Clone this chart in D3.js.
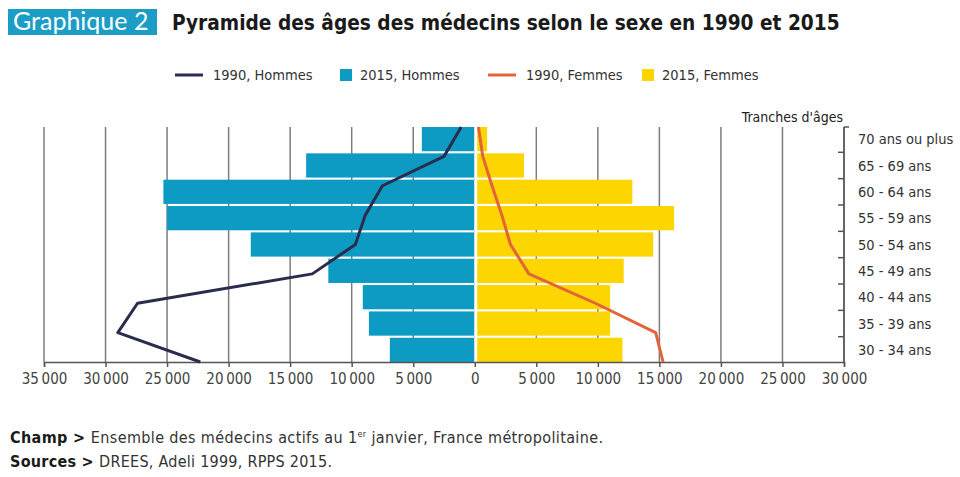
<!DOCTYPE html>
<html>
<head>
<meta charset="utf-8">
<script src="https://cdn.jsdelivr.net/npm/d3@7"></script>
<style>
  body { margin: 0; background: #fff; }
  svg { display: block; }
  .narrow { font-family: 'Liberation Sans Narrow', 'DejaVu Sans Condensed', 'Roboto Condensed', sans-serif; }
</style>
</head>
<body>
<div id="chart"></div>
<script>
// tranches d'âges, du haut vers le bas
var ages = ["70 ans ou plus", "65 - 69 ans", "60 - 64 ans", "55 - 59 ans", "50 - 54 ans",
            "45 - 49 ans", "40 - 44 ans", "35 - 39 ans", "30 - 34 ans"];
// effectifs
var hommes1990 = [1100, 2500, 7500, 8900, 9700, 13200, 27400, 29000, 22300];
var hommes2015 = [4300, 13700, 25300, 25000, 18200, 11900, 9100, 8600, 6900];
var femmes1990 = [300, 650, 1400, 2200, 2900, 4400, 9800, 14700, 15300];
var femmes2015 = [1000, 4000, 12800, 16200, 14500, 12100, 11000, 11000, 12000];
var xTicks = [-35000, -30000, -25000, -20000, -15000, -10000, -5000, 0, 5000, 10000, 15000, 20000, 25000, 30000];

var W = 960, H = 477;
var plot = {left: 44, right: 844, top: 127, bottom: 362};

var svg = d3.select("#chart").append("svg")
    .attr("width", W).attr("height", H);

// échelles
var x = d3.scaleLinear().domain([-35000, 30000]).range([plot.left, plot.right]);
var y = d3.scaleBand().domain(ages).range([plot.top, plot.bottom]).paddingInner(0.08).paddingOuter(0);
var yLine = d3.scalePoint().domain(ages).range([plot.top, plot.bottom]).padding(0);

var fr = d3.formatLocale({decimal: ",", thousands: "\u2009", grouping: [3], currency: ["", " €"]});
var fmt = fr.format(",");

var colH = "#0d9bc4", colF = "#fdd500", colH90 = "#2a2c4e", colF90 = "#e4643a";

// ajuste la taille de police pour tenir dans une largeur donnée
function fitText(sel, width, maxSize) {
    sel.attr("font-size", maxSize);
    var w = sel.node().getComputedTextLength();
    if (w > width) sel.attr("font-size", maxSize * width / w);
}

// titre
svg.append("rect").attr("x", 8).attr("y", 9).attr("width", 149).attr("height", 26).attr("fill", "#1b9dc6");
var t0 = svg.append("text").attr("x", 13).attr("y", 30)
    .attr("font-family", "Lato, 'Open Sans', sans-serif")
    .attr("fill", "#fff")
    .text("Graphique 2");
fitText(t0, 139, 25);
var t1 = svg.append("text").attr("class", "narrow").attr("x", 172).attr("y", 30)
    .attr("font-weight", "bold").attr("fill", "#1a1a1a")
    .text("Pyramide des âges des médecins selon le sexe en 1990 et 2015");
fitText(t1, 668, 25);

// légende
var legend = [
    {label: "1990, Hommes", type: "line", color: colH90, x: 175},
    {label: "2015, Hommes", type: "rect", color: colH, x: 340},
    {label: "1990, Femmes", type: "line", color: colF90, x: 488},
    {label: "2015, Femmes", type: "rect", color: colF, x: 642}
];
var lg = svg.append("g").selectAll("g").data(legend).enter().append("g")
    .attr("transform", function(d) { return "translate(" + d.x + ",75)"; });
lg.filter(function(d) { return d.type === "line"; }).append("line")
    .attr("x1", 0).attr("x2", 28).attr("y1", 0).attr("y2", 0)
    .attr("stroke", function(d) { return d.color; }).attr("stroke-width", 3);
lg.filter(function(d) { return d.type === "rect"; }).append("rect")
    .attr("x", 0).attr("y", -6).attr("width", 12).attr("height", 12)
    .attr("fill", function(d) { return d.color; });
lg.append("text").attr("class", "narrow")
    .attr("x", function(d) { return d.type === "line" ? 38 : 20; })
    .attr("y", 5).attr("font-size", 14.5).attr("fill", "#333")
    .text(function(d) { return d.label; });

svg.append("text").attr("class", "narrow").attr("x", 843).attr("y", 122)
    .attr("text-anchor", "end").attr("font-size", 14).attr("fill", "#222")
    .text("Tranches d'âges");

// grille verticale
svg.append("g").selectAll("line").data(xTicks).enter().append("line")
    .attr("x1", function(d) { return x(d); }).attr("x2", function(d) { return x(d); })
    .attr("y1", plot.top).attr("y2", plot.bottom)
    .attr("stroke", "#7d7d7d").attr("stroke-width", 1.5);

// barres 2015
var bars = svg.append("g");
bars.selectAll(".h").data(ages).enter().append("rect").attr("class", "h")
    .attr("x", function(d, i) { return x(-hommes2015[i]); })
    .attr("y", function(d) { return y(d); })
    .attr("width", function(d, i) { return x(0) - x(-hommes2015[i]); })
    .attr("height", y.bandwidth())
    .attr("fill", colH);
bars.selectAll(".f").data(ages).enter().append("rect").attr("class", "f")
    .attr("x", x(0))
    .attr("y", function(d) { return y(d); })
    .attr("width", function(d, i) { return x(femmes2015[i]) - x(0); })
    .attr("height", y.bandwidth())
    .attr("fill", colF);
// séparation blanche au zéro
svg.append("line").attr("x1", x(0) + 1).attr("x2", x(0) + 1)
    .attr("y1", plot.top).attr("y2", plot.bottom)
    .attr("stroke", "#fff").attr("stroke-width", 3);

// axe horizontal
var xAxis = d3.axisBottom(x).tickValues(xTicks).tickSize(5).tickPadding(6)
    .tickFormat(function(d) { return fmt(Math.abs(d)); });
var gx = svg.append("g").attr("transform", "translate(0," + plot.bottom + ")").call(xAxis);
gx.select(".domain").attr("stroke", "#555").attr("stroke-width", 1.5);
gx.selectAll(".tick line").attr("stroke", "#555").attr("stroke-width", 1.5);
gx.selectAll("text").attr("font-size", 15).attr("fill", "#444")
    .style("font-family", "'Liberation Sans Narrow', 'DejaVu Sans Condensed', sans-serif");

// axe des âges à droite
var gy = svg.append("g");
gy.append("line").attr("x1", plot.right).attr("x2", plot.right)
    .attr("y1", plot.top).attr("y2", plot.bottom)
    .attr("stroke", "#555").attr("stroke-width", 1.5);
gy.append("line").attr("x1", plot.right).attr("x2", plot.right + 5)
    .attr("y1", plot.top).attr("y2", plot.top)
    .attr("stroke", "#555").attr("stroke-width", 1.5);
gy.selectAll(".tk").data(ages.slice(1)).enter().append("line").attr("class", "tk")
    .attr("x1", plot.right - 6).attr("x2", plot.right)
    .attr("y1", function(d) { return y(d) - y.step() * y.paddingInner() / 2; })
    .attr("y2", function(d) { return y(d) - y.step() * y.paddingInner() / 2; })
    .attr("stroke", "#555").attr("stroke-width", 1.5);
gy.selectAll("text").data(ages).enter().append("text").attr("class", "narrow")
    .attr("x", plot.right + 14)
    .attr("y", function(d) { return y(d) + y.bandwidth() / 2; })
    .attr("dy", "0.35em").attr("font-size", 14.5).attr("fill", "#333")
    .text(function(d) { return d; });

// courbes 1990
var line = d3.line()
    .x(function(d) { return x(d.v); })
    .y(function(d) { return yLine(d.age); });
svg.append("path")
    .datum(ages.map(function(a, i) { return {age: a, v: -hommes1990[i]}; }))
    .attr("d", line).attr("fill", "none")
    .attr("stroke", colH90).attr("stroke-width", 3).attr("stroke-linejoin", "round");
svg.append("path")
    .datum(ages.map(function(a, i) { return {age: a, v: femmes1990[i]}; }))
    .attr("d", line).attr("fill", "none")
    .attr("stroke", colF90).attr("stroke-width", 3).attr("stroke-linejoin", "round");

// notes
var note1 = svg.append("text").attr("class", "narrow").attr("x", 10).attr("y", 443)
    .attr("font-size", 16).attr("fill", "#333");
note1.append("tspan").attr("font-weight", "bold").attr("fill", "#1a1a1a").text("Champ > ");
note1.append("tspan").text("Ensemble des médecins actifs au 1");
note1.append("tspan").attr("font-size", 9).attr("dy", -6).text("er");
note1.append("tspan").attr("dy", 6).text(" janvier, France métropolitaine.");
note1.attr("textLength", 593).attr("lengthAdjust", "spacing");

var note2 = svg.append("text").attr("class", "narrow").attr("x", 10).attr("y", 467)
    .attr("font-size", 16).attr("fill", "#333");
note2.append("tspan").attr("font-weight", "bold").attr("fill", "#1a1a1a").text("Sources > ");
note2.append("tspan").text("DREES, Adeli 1999, RPPS 2015.");
note2.attr("textLength", 322).attr("lengthAdjust", "spacing");
</script>
</body>
</html>
